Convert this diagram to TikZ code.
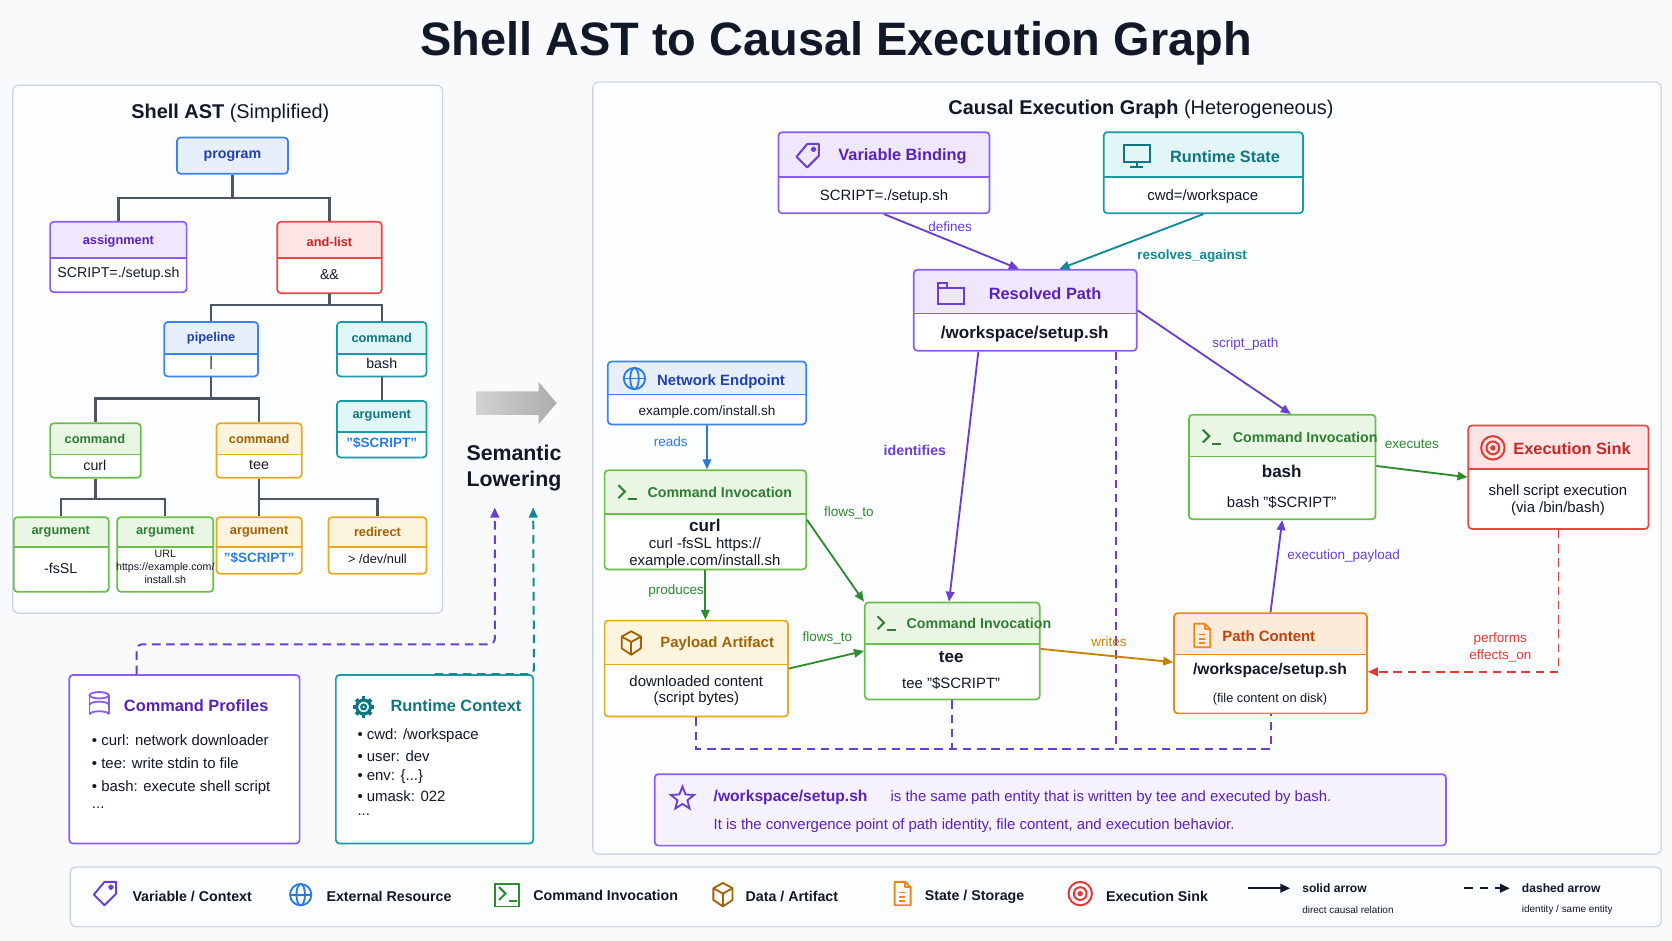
\documentclass[tikz,border=0pt]{standalone}
\usepackage{fontspec}
\setmainfont{Liberation Sans}
\usetikzlibrary{arrows.meta,shapes.geometric,calc}
\definecolor{bgc}{HTML}{F8FAFC}
\definecolor{panel}{HTML}{FCFDFE}
\definecolor{pline}{HTML}{CBD5E1}
\definecolor{ink}{HTML}{111827}
\definecolor{treec}{HTML}{4B5563}
\definecolor{pu}{HTML}{8B5CF6}\definecolor{puT}{HTML}{5B21B6}\definecolor{puH}{HTML}{EFE8FD}\definecolor{puE}{HTML}{6A3FD0}
\definecolor{te}{HTML}{1A9AA5}\definecolor{teT}{HTML}{0F7680}\definecolor{teH}{HTML}{E2F5F7}\definecolor{teE}{HTML}{0E8A94}
\definecolor{bl}{HTML}{3B82F6}\definecolor{blT}{HTML}{1E40AF}\definecolor{blH}{HTML}{E7EFFD}\definecolor{blE}{HTML}{2A7BE0}
\definecolor{gr}{HTML}{6ABF4B}\definecolor{grT}{HTML}{2E7D32}\definecolor{grH}{HTML}{E9F6E4}\definecolor{grE}{HTML}{2E8B30}
\definecolor{am}{HTML}{E8A820}\definecolor{amT}{HTML}{A16207}\definecolor{amH}{HTML}{FDF4DD}
\definecolor{or}{HTML}{E8891E}\definecolor{orT}{HTML}{C2410C}\definecolor{orH}{HTML}{FDEAD8}\definecolor{orE}{HTML}{C98200}
\definecolor{rd}{HTML}{EF4444}\definecolor{rdT}{HTML}{C62828}\definecolor{rdH}{HTML}{FDE5E5}\definecolor{rdE}{HTML}{E53935}
\definecolor{notef}{HTML}{F6F1FE}
\newcommand\fz[1]{\fontsize{#1pt}{1.22\dimexpr#1pt\relax}\selectfont}
% box: name, x1,y1,x2,y2, header height, border, header fill
\newcommand\bx[8]{\node[box, draw=#7, minimum width={(#4-#2)*0.75pt}, minimum height={(#5-#3)*0.75pt},
  path picture={\fill[#8] (path picture bounding box.north west) rectangle ([yshift={-#6*0.75pt}]path picture bounding box.north east);
  \draw[#7,line width=1pt] ([yshift={-#6*0.75pt}]path picture bounding box.north west) -- ([yshift={-#6*0.75pt}]path picture bounding box.north east);}]
  (#1) at ({(#2+#4)/2},{(#3+#5)/2}) {};}
\newcommand\icTerm[2]{\begin{scope}[shift={(#1)},#2,line width=1.4pt]\draw (-9,-6)--(-3,0)--(-9,6);\draw (0,7)--(8,7);\end{scope}}
\newcommand\icTag[2]{\begin{scope}[shift={(#1)},#2,line width=1.4pt,line join=round]\draw (-1,-11)--(10,-11)--(10,0)--(-1,11)--(-11,1)--cycle;\draw (5,-6) circle (1.8);\end{scope}}
\newcommand\icMon[2]{\begin{scope}[shift={(#1)},#2,line width=1.4pt]\draw (-12,-10) rectangle (12,6);\draw (0,6)--(0,11);\draw (-6,11)--(6,11);\end{scope}}
\newcommand\icFold[2]{\begin{scope}[shift={(#1)},#2,line width=1.4pt]\draw (-12,-5) rectangle (12,10);\draw (-12,-5)--(-12,-10)--(-4,-10)--(-4,-5);\end{scope}}
\newcommand\icGlobe[2]{\begin{scope}[shift={(#1)},#2,line width=1.3pt]\draw (0,0) circle (10);\draw (0,0) ellipse (4 and 10);\draw (-10,0)--(10,0);\end{scope}}
\newcommand\icCube[2]{\begin{scope}[shift={(#1)},#2,line width=1.3pt,line join=round]\draw (0,-11)--(9,-6)--(9,5)--(0,11)--(-9,5)--(-9,-6)--cycle;\draw (-9,-6)--(0,-1)--(9,-6);\draw (0,-1)--(0,11);\end{scope}}
\newcommand\icDoc[2]{\begin{scope}[shift={(#1)},#2,line width=1.3pt,line join=round]\draw (-7,-11)--(3,-11)--(8,-6)--(8,11)--(-7,11)--cycle;\draw (3,-11)--(3,-6)--(8,-6);\draw (-3,-1)--(3,-1) (-3,3)--(3,3) (-3,7)--(3,7);\end{scope}}
\newcommand\icTarget[2]{\begin{scope}[shift={(#1)},#2,line width=1.4pt]\draw (0,0) circle (11);\draw (0,0) circle (6);\fill (0,0) circle (2.5);\end{scope}}
\newcommand\icDB[2]{\begin{scope}[shift={(#1)},#2,line width=1.3pt]\draw (0,-9) ellipse (9 and 3);\draw (-9,-9)--(-9,9) (9,-9)--(9,9);\draw (-9,0) arc (180:360:9 and 3);\draw (-9,9) arc (180:360:9 and 3);\end{scope}}
\newcommand\icGear[2]{\begin{scope}[shift={(#1)},#2]\draw[line width=2.2pt] (0,0) circle (6.5);\foreach \a in {0,45,...,315}{\draw[line width=2.6pt] (\a:6) -- (\a:10);}\draw[line width=1.6pt] (0,0) circle (2.2);\end{scope}}
\begin{document}
\begin{tikzpicture}[x=0.75pt,y=-0.75pt,
  box/.style={rectangle,rounded corners=2.5pt,line width=1.2pt,inner sep=0pt,fill=white},
  t/.style={inner sep=0pt,text=ink},
  arr/.style={-{Triangle[length=7pt,width=6pt]},line width=1.3pt},
  lbl/.style={inner sep=0pt,font=\fz{9.5}},
  tree/.style={treec,line width=1.6pt},
  ah/.style={font=\fz{9}\bfseries,inner sep=0pt},
  ab/.style={font=\fz{10},inner sep=0pt,text=ink},
  ttl/.style={font=\fz{11.5}\bfseries,inner sep=0pt,anchor=west},
  bd/.style={font=\fz{10.5},inner sep=0pt,text=ink,align=center},
  lg/.style={inner sep=0pt,text=ink,anchor=west,font=\fz{10}\bfseries},
  ident/.style={puE,line width=1.4pt,dash pattern=on 6pt off 4pt}]
\useasboundingbox (0,0) rectangle (1568,882);
\fill[bgc] (0,0) rectangle (1568,882);
\node[t,font=\fz{33}\bfseries] (title) at (784,41) {Shell AST to Causal Execution Graph};
% ---------- left panel
\draw[pline,fill=panel,line width=0.9pt,rounded corners=4pt] (12,80) rectangle (415,575);
\node[t,font=\fz{14}] (ltitle) at (216,106) {\textbf{Shell AST} (Simplified)};
\bx{prog}{166}{129}{270}{163}{34}{bl}{blH}
\node[ah,text=blT,font=\fz{10}\bfseries] at (prog) {program};
\bx{asg}{47}{208}{175}{274}{34}{pu}{puH}
\node[ah,text=puT] at (111,226) {assignment};\node[ab] at (111,257) {SCRIPT=./setup.sh};
\bx{andl}{260}{208}{358}{275}{34}{rd}{rdH}
\node[ah,text=rdT] at (309,227) {and-list};\node[ab] at (309,258) {\&\&};
\bx{pipe}{154}{302}{242}{353}{30}{bl}{blH}
\node[ah,text=blT] at (198,317) {pipeline};\node[ab] at (198,340) {|};
\bx{cbash}{316}{302}{400}{353}{30}{te}{teH}
\node[ah,text=teT] at (358,317) {command};\node[ab] at (358,341) {bash};
\bx{abash}{316}{376}{400}{429}{29}{te}{teH}
\node[ah,text=teT] at (358,390) {argument};\node[ab,font=\fz{9.5}\bfseries,text=blE] at (358,415) {"\$SCRIPT"};
\bx{ccurl}{47}{397}{132}{448}{29}{gr}{grH}
\node[ah,text=grT] at (89,412) {command};\node[ab] at (89,436) {curl};
\bx{ctee}{203}{397}{283}{448}{29}{am}{amH}
\node[ah,text=amT] at (243,412) {command};\node[ab] at (243,436) {tee};
\bx{afs}{13}{485}{102}{555}{28}{gr}{grH}
\node[ah,text=grT] at (57,499) {argument};\node[ab] at (57,533) {-fsSL};
\bx{aurl}{110}{485}{200}{555}{28}{gr}{grH}
\node[ah,text=grT] at (155,499) {argument};
\node[ab,font=\fz{7.5},align=center] at (155,532) {URL\\https://example.com/\\install.sh};
\bx{atee}{203}{485}{283}{538}{28}{am}{amH}
\node[ah,text=amT] at (243,499) {argument};\node[ab,font=\fz{9.5}\bfseries,text=blE] at (243,523) {"\$SCRIPT"};
\bx{redir}{308}{485}{400}{538}{28}{am}{amH}
\node[ah,text=amT] at (354,499) {redirect};\node[ab,font=\fz{9}] at (354,524) {> /dev/null};
\draw[tree] (prog.south) -- ++(0,22) -| (asg.north);
\draw[tree] (prog.south) -- ++(0,22) -| (andl.north);
\draw[tree] (andl.south) -- ++(0,10) -| (pipe.north);
\draw[tree] (andl.south) -- ++(0,10) -| (cbash.north);
\draw[tree] (cbash.south) -- (abash.north);
\draw[tree] (pipe.south) -- ++(0,20) -| (ccurl.north);
\draw[tree] (pipe.south) -- ++(0,20) -| (ctee.north);
\draw[tree] (ccurl.south) -- ++(0,19) -| (afs.north);
\draw[tree] (ccurl.south) -- ++(0,19) -| (aurl.north);
\draw[tree] (ctee.south) -- ++(0,19) -| (atee.north);
\draw[tree] (ctee.south) -- ++(0,19) -| (redir.north);
% ---------- lowering arrow
\shade[left color=gray!35,right color=gray!65] (447,367)--(505,367)--(505,358)--(522,378)--(505,398)--(505,389)--(447,389)--cycle;
\node[t,font=\fz{15}\bfseries,align=center] (sem) at (482,439) {Semantic\\Lowering};
\coordinate (sl1) at (464,476);
\coordinate (sl2) at (500,476);
% ---------- bottom-left boxes
\node[box,draw=pu,fill=white,minimum width={216*0.75pt},minimum height={158*0.75pt}] (cp) at (173,712) {};
\icDB{93,661}{pu}
\node[ttl,text=puT] at (116,662) {Command Profiles};
\node[t,anchor=west,font=\fz{10.5}] at (86,694) {• curl: network downloader};
\node[t,anchor=west,font=\fz{10.5}] at (86,716) {• tee: write stdin to file};
\node[t,anchor=west,font=\fz{10.5}] at (86,739) {• bash: execute shell script};
\node[t,anchor=west,font=\fz{10.5}] at (86,757) {...};
\node[box,draw=te,fill=white,minimum width={185*0.75pt},minimum height={158*0.75pt}] (rc) at (407.5,712) {};
\icGear{341,663}{teT}
\node[ttl,text=teT] at (366,662) {Runtime Context};
\node[t,anchor=west,font=\fz{10.5}] at (335,690) {• cwd: /workspace};
\node[t,anchor=west,font=\fz{10.5}] at (335,709) {• user: dev};
\node[t,anchor=west,font=\fz{10.5}] at (335,728) {• env: \{...\}};
\node[t,anchor=west,font=\fz{10.5}] at (335,747) {• umask: 022};
\node[t,anchor=west,font=\fz{10.5}] at (335,764) {...};
\draw[arr,ident,rounded corners=4pt] ($(cp.north west)+(64,0)$) -- ++(0,-28) -| (sl1);
\draw[arr,teE,line width=1.4pt,dash pattern=on 6pt off 4pt,rounded corners=4pt] (rc.north) -- (rc.north east) -- (sl2);
% ---------- right panel
\draw[pline,fill=panel,line width=0.9pt,rounded corners=4pt] (556,77) rectangle (1558,801);
\node[t,font=\fz{14}] (rtitle) at (1070,103) {\textbf{Causal Execution Graph} (Heterogeneous)};
\bx{vb}{730}{124}{928}{200}{42}{pu}{puH}
\icTag{758,146}{puE}\node[ttl,text=puT,font=\fz{11.5}\bfseries] at (786,147) {Variable Binding};
\node[bd] at (829,184) {SCRIPT=./setup.sh};
\bx{rs}{1035}{124}{1222}{200}{42}{te}{teH}
\icMon{1066,146}{teT}\node[ttl,text=teT,font=\fz{11.5}\bfseries] at (1097,147) {Runtime State};
\node[bd] at (1128,184) {cwd=/workspace};
\bx{rp}{857}{253}{1066}{329}{41}{pu}{puH}
\icFold{892,275}{puE}\node[ttl,text=puT,font=\fz{11.5}\bfseries] at (927,275) {Resolved Path};
\node[bd,font=\fz{12}\bfseries] at (961,313) {/workspace/setup.sh};
\bx{ne}{570}{339}{756}{398}{31}{bl}{blH}
\icGlobe{595,355}{blE}\node[ttl,text=blT,font=\fz{10.5}\bfseries] at (616,358) {Network Endpoint};
\node[bd,font=\fz{9.5}] at (663,386) {example.com/install.sh};
\bx{curl}{567}{441}{756}{534}{41}{gr}{grH}
\icTerm{589,461}{grT}\node[ttl,text=grT,font=\fz{10}\bfseries] at (607,462) {Command Invocation};
\node[bd,font=\fz{12}\bfseries] at (661,493) {curl};
\node[bd] at (661,511) {curl -fsSL https://};\node[bd] at (661,527) {example.com/install.sh};
\bx{pay}{567}{582}{739}{672}{41}{am}{amH}
\icCube{592,603}{amT}\node[ttl,text=amT,font=\fz{10.5}\bfseries] at (619,604) {Payload Artifact};
\node[bd] at (653,639) {downloaded content};\node[bd] at (653,655) {(script bytes)};
\bx{tee}{811}{565}{975}{656}{39}{gr}{grH}
\icTerm{832,584}{grT}\node[ttl,text=grT,font=\fz{10}\bfseries] at (850,585) {Command Invocation};
\node[bd,font=\fz{12}\bfseries] at (892,616) {tee};\node[bd] at (892,641) {tee "\$SCRIPT"};
\bx{bash}{1115}{389}{1290}{487}{39}{gr}{grH}
\icTerm{1137,409}{grT}\node[ttl,text=grT,font=\fz{10}\bfseries] at (1156,410) {Command Invocation};
\node[bd,font=\fz{12}\bfseries] at (1202,442) {bash};\node[bd] at (1202,471) {bash "\$SCRIPT"};
\bx{sink}{1377}{399}{1546}{496}{41}{rd}{rdH}
\icTarget{1400,420}{rdE}\node[ttl,text=rdT,font=\fz{11.5}\bfseries] at (1419,421) {Execution Sink};
\node[bd] at (1461,461) {shell script execution};\node[bd] at (1461,477) {(via /bin/bash)};
\bx{pc}{1101}{575}{1282}{669}{39}{or}{orH}
\icDoc{1127,596}{or}\node[ttl,text=orT,font=\fz{10.5}\bfseries] at (1146,597) {Path Content};
\node[bd,font=\fz{11}\bfseries] at (1191,629) {/workspace/setup.sh};
\node[bd,font=\fz{9}] at (1191,656) {(file content on disk)};
% note
\node[box,draw=pu,fill=notef,minimum width={742*0.75pt},minimum height={67*0.75pt}] (note) at (985,759.5) {};
\node[star,star points=5,star point ratio=2.3,draw=puE,line width=1.3pt,inner sep=0pt,minimum size=17pt] (st) at (640,749) {};
\node[t,anchor=west,font=\fz{11}\bfseries,text=puT] at (669,748) {/workspace/setup.sh};
\node[t,anchor=west,font=\fz{10.5},text=puT] at (835,748) {is the same path entity that is written by tee and executed by bash.};
\node[t,anchor=west,font=\fz{10.5},text=puT] at (669,774) {It is the convergence point of path identity, file content, and execution behavior.};
% identity dashed lines
\draw[ident] (pay.south) -- ++(0,30) -| (pc.south);
\draw[ident] (tee.south) -- ++(0,46);
\draw[ident] ($(rp.south east)+(-20,0)$) -- ++(0,373);
% edges
\draw[arr,puE] (vb.south) -- ($(rp.north)+(-6,0)$);
\node[lbl,text=puE] at (891,213) {defines};
\draw[arr,teE] (rs.south) -- ($(rp.north)+(32,0)$);
\node[lbl,text=teE,font=\fz{9.5}\bfseries] at (1118,240) {resolves\_against};
\draw[arr,puE] (rp.east) -- ($(bash.north)+(8,0)$);
\node[lbl,text=puE] at (1168,323) {script\_path};
\draw[arr,puE] ($(rp.south)+(-44,0)$) -- ($(tee.north)+(-3,0)$);
\node[lbl,text=puE,font=\fz{10}\bfseries] at (858,422) {identifies};
\draw[arr,blE] (ne.south) -- (ne.south |- curl.north);
\node[lbl,text=blE] at (629,414) {reads};
\draw[arr,grE] (curl.south) -- (curl.south |- pay.north);
\node[lbl,text=grE] at (634,554) {produces};
\draw[arr,grE] (curl.east) -- (tee.north west);
\node[lbl,text=grE] at (796,481) {flows\_to};
\draw[arr,grE] (pay.east) -- (tee.west);
\node[lbl,text=grE] at (776,598) {flows\_to};
\draw[arr,orE] ($(tee.east)+(0,-2)$) -- ($(pc.west)+(0,-1)$);
\node[lbl,text=orE] at (1040,602) {writes};
\draw[arr,puE] (pc.north) -- (bash.south);
\node[lbl,text=puE] at (1260,521) {execution\_payload};
\draw[arr,grE] ($(bash.east)+(0,-1)$) -- (sink.west);
\node[lbl,text=grE] at (1324,417) {executes};
\draw[arr,rdE,dash pattern=on 6pt off 4pt] (sink.south) |- ($(pc.east)+(0,8)$);
\node[lbl,text=rdE,align=center] at (1407,607) {performs\\effects\_on};
% ---------- legend
\draw[pline,fill=panel,line width=0.9pt,rounded corners=4pt] (66,813) rectangle (1558,869);
\icTag{99,838}{puE}\node[lg] at (124,841) {Variable / Context};
\icGlobe{282,839}{blE}\node[lg] at (306,841) {External Resource};
\draw[grE,line width=1.2pt] (464,829) rectangle (487,850);\icTerm{477,838}{grE}
\node[lg] at (500,840) {Command Invocation};
\icCube{678,839}{amT}\node[lg] at (699,841) {Data / Artifact};
\icDoc{846,838}{or}\node[lg] at (867,841) {State / Storage};
\icTarget{1013,838}{rdE}\node[lg] at (1037,841) {Execution Sink};
\coordinate (la1) at (1170,833);\coordinate (la2) at (1210,833);
\draw[arr,ink,line width=1.5pt] (la1) -- (la2);
\node[t,anchor=west,font=\fz{8.5}\bfseries] at (1221,833) {solid arrow};
\node[t,anchor=west,font=\fz{7}] at (1221,853) {direct causal relation};
\coordinate (lb1) at (1373,833);\coordinate (lb2) at (1416,833);
\draw[arr,ink,line width=1.5pt,dash pattern=on 6pt off 5pt] (lb1) -- (lb2);
\node[t,anchor=west,font=\fz{8.5}\bfseries] at (1427,833) {dashed arrow};
\node[t,anchor=west,font=\fz{7}] at (1427,853) {identity / same entity};
\end{tikzpicture}
\end{document}
